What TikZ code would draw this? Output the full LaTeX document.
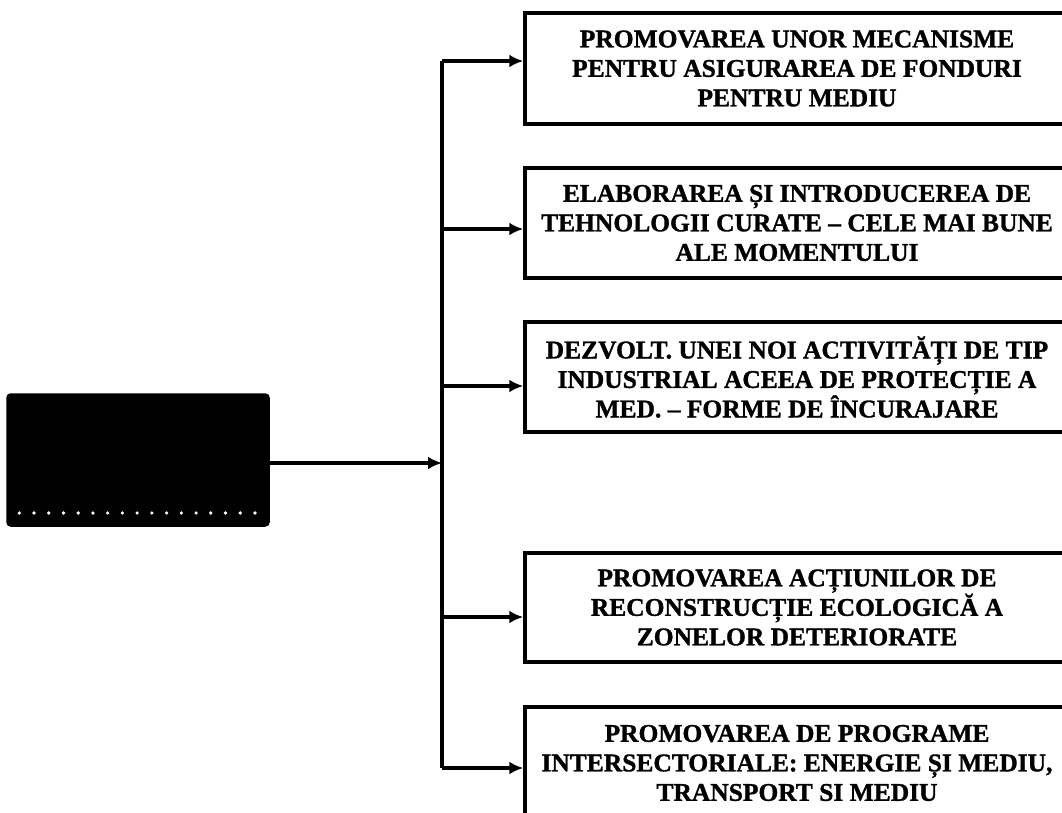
\documentclass[tikz,border=0pt]{standalone}
\usepackage{fontspec}
\setmainfont{Liberation Serif}[BoldFeatures={FakeBold=1.2}]
\usetikzlibrary{arrows.meta}
\begin{document}
\begin{tikzpicture}[x=1pt,y=-1pt,
  line width=3.5pt,
  actbox/.style={draw, rectangle, minimum width=544pt, inner sep=0pt,
    align=center, font=\bfseries\fontsize{25.5}{29.5}\selectfont},
  link/.style={-{Latex[length=14pt,width=13pt]}, line width=3.5pt},
  srcbox/.style={fill=black, draw=black, rounded corners=3pt, inner sep=0pt,
    minimum width=260pt, minimum height=130pt}]
\useasboundingbox (0,0) rectangle (1062,813);
\clip (0,0) rectangle (1062,813);

% source block on the left
\node[srcbox] (src) at (138,460) {};
\foreach \i in {0,...,16}
  \fill[white] ({19.3+14.73*\i},513) circle (1.8pt);

% action blocks on the right
\node[actbox, minimum height=111pt] (b1) at (797,68.5)
  {PROMOVAREA UNOR MECANISME\\PENTRU ASIGURAREA DE FONDURI\\PENTRU MEDIU};
\node[actbox, minimum height=110pt] (b2) at (797,223)
  {ELABORAREA ȘI INTRODUCEREA DE\\TEHNOLOGII CURATE – CELE MAI BUNE\\ALE MOMENTULUI};
\node[actbox, minimum height=110pt] (b3) at (797,377)
  {DEZVOLT. UNEI NOI ACTIVITĂȚI DE TIP\\INDUSTRIAL ACEEA DE PROTECȚIE A\\MED. – FORME DE ÎNCURAJARE};
\node[actbox, minimum height=109pt] (b4) at (797,607.5)
  {PROMOVAREA ACȚIUNILOR DE\\RECONSTRUCȚIE ECOLOGICĂ A\\ZONELOR DETERIORATE};
\node[actbox, minimum height=112pt] (b5) at (797,763)
  {PROMOVAREA DE PROGRAME\\INTERSECTORIALE: ENERGIE ȘI MEDIU,\\TRANSPORT SI MEDIU};

% junctions on the vertical trunk
\coordinate (j1) at (442,61);
\coordinate (j2) at (442,229);
\coordinate (j3) at (442,386);
\coordinate (jm) at (442,463);
\coordinate (j4) at (442,617);
\coordinate (j5) at (442,768);

% trunk and connectors
\draw (j1) -- (j5);
\draw[link] (src.east |- jm) -- (jm);
\draw[link] (j1) -- (j1 -| b1.west);
\draw[link] (j2) -- (j2 -| b2.west);
\draw[link] (j3) -- (j3 -| b3.west);
\draw[link] (j4) -- (j4 -| b4.west);
\draw[link] (j5) -- (j5 -| b5.west);
\end{tikzpicture}
\end{document}
